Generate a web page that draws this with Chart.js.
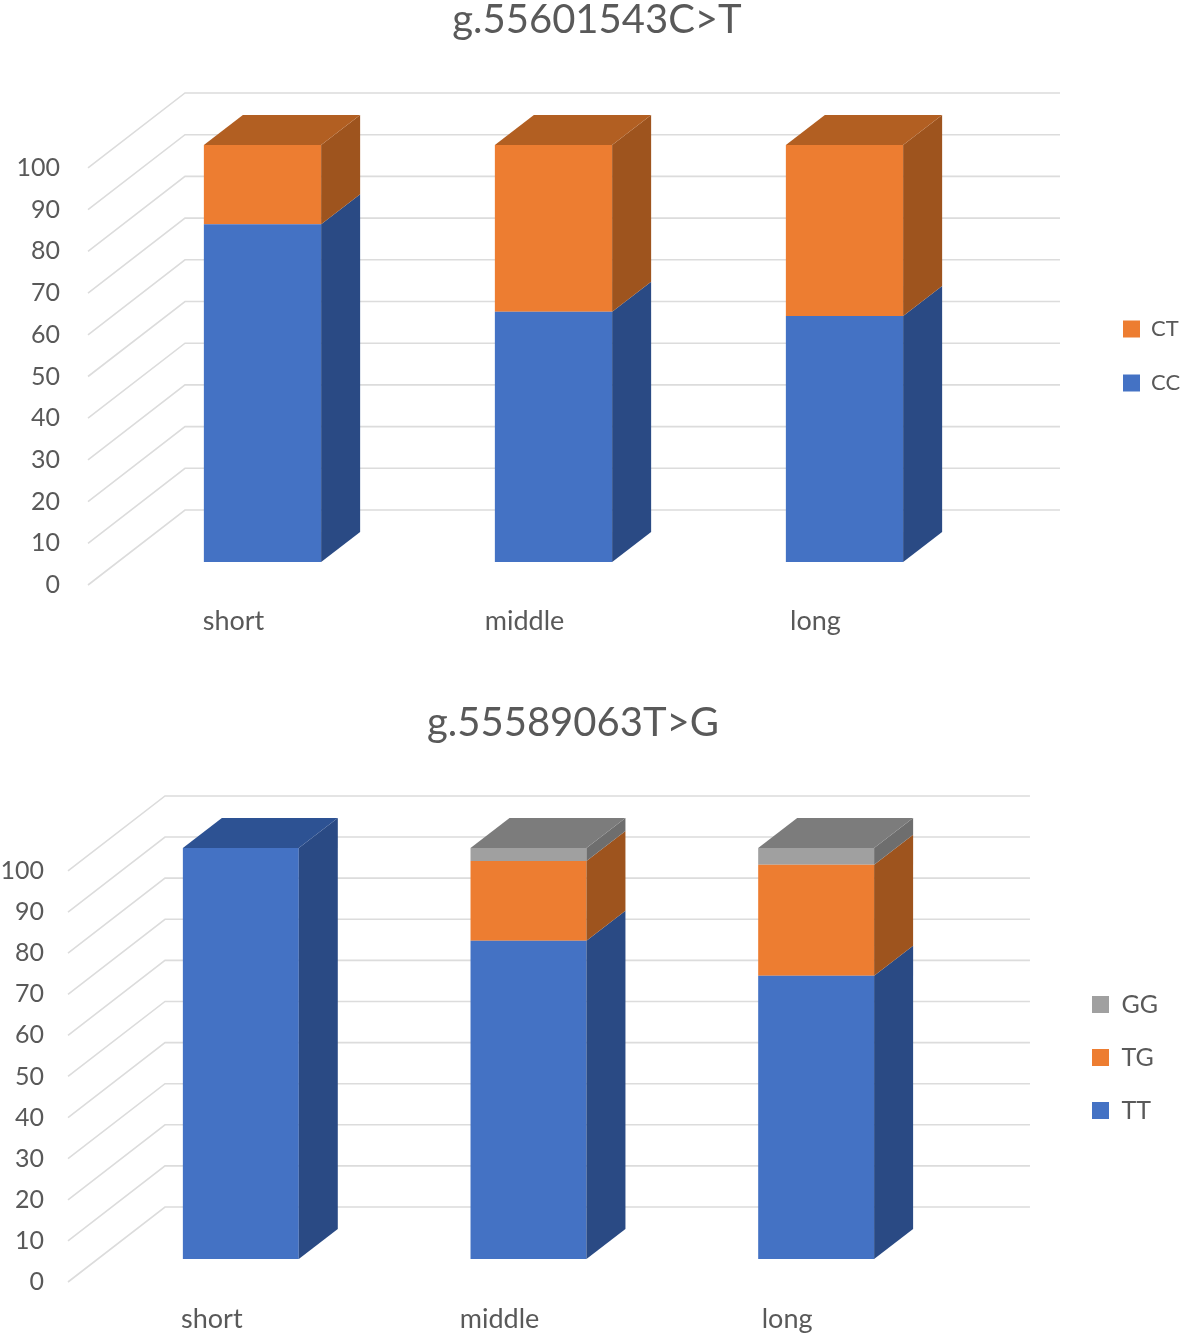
<!DOCTYPE html>
<html>
<head>
<meta charset="utf-8">
<title>Genotype charts</title>
<script src="https://cdn.jsdelivr.net/npm/chart.js@4"></script>
<style>
  html, body { margin: 0; background: #fff; overflow: hidden; }
  canvas { position: absolute; }
  #chartTop { top: 0; left: 0; }
  #chartBottom { top: 665px; left: -35px; }
</style>
</head>
<body>
<canvas id="chartTop" width="1181" height="660"></canvas>
<canvas id="chartBottom" width="1216" height="669"></canvas>
<script>
// Data
const categories = ['short', 'middle', 'long'];
const tickValues = [0, 10, 20, 30, 40, 50, 60, 70, 80, 90, 100];

const titleTop = 'g.55601543C>T';
const ccValues = [81, 60, 59];
const ctValues = [19, 40, 41];

const titleBottom = 'g.55589063T>G';
const ttValues = [100, 77.4, 68.9];
const tgValues = [0, 19.4, 27];
const ggValues = [0, 3.2, 4.1];

const TEXT = '#595959';
const GRID = '#dcdcdc';
const FONT = 'Lato, "Open Sans", sans-serif';

// front, side and top colours per genotype colour
const BLUE = { front: '#4472c4', side: '#2a4a84', top: '#2d5293' };
const ORANGE = { front: '#ed7d31', side: '#9e541e', top: '#b25f22' };
const GREY = { front: '#a0a0a0', side: '#6e6e6e', top: '#7c7c7c' };

// Fake 3D: walls behind the bars, side and top faces in front
const box3d = {
  id: 'box3d',
  beforeDatasetsDraw(chart) {
    const { ctx, chartArea } = chart;
    const y = chart.scales.y;
    ctx.save();
    ctx.strokeStyle = GRID;
    ctx.lineWidth = 1.6;
    tickValues.forEach(v => {
      const py = y.getPixelForValue(v);
      ctx.beginPath();
      ctx.moveTo(chartArea.left - 29, py + 2);
      ctx.lineTo(chartArea.left + 68, py - 73);
      ctx.lineTo(chartArea.right + 70, py - 73);
      ctx.stroke();
    });
    ctx.restore();
  },
  afterDatasetsDraw(chart) {
    const { ctx } = chart;
    const dx = 39, dy = 30;
    const face = (pts, color) => {
      ctx.fillStyle = color;
      ctx.beginPath();
      pts.forEach((p, i) => (i ? ctx.lineTo(p[0], p[1]) : ctx.moveTo(p[0], p[1])));
      ctx.closePath();
      ctx.fill();
    };
    categories.forEach((c, i) => {
      let last = null;
      chart.data.datasets.forEach((ds, d) => {
        if (!ds.data[i]) return;
        const bar = chart.getDatasetMeta(d).data[i];
        const r = bar.x + bar.width / 2;
        face([[r, bar.base], [r + dx, bar.base - dy], [r + dx, bar.y - dy], [r, bar.y]], ds.faces.side);
        last = { bar, faces: ds.faces };
      });
      if (last) {
        const l = last.bar.x - last.bar.width / 2;
        const r = last.bar.x + last.bar.width / 2;
        const t = last.bar.y;
        face([[l, t], [r, t], [r + dx, t - dy], [l + dx, t - dy]], last.faces.top);
      }
    });
  }
};

function series(label, data, faces) {
  return { label, data, faces, backgroundColor: faces.front, borderWidth: 0, barPercentage: 0.403, categoryPercentage: 1, yAxisID: 'yBars' };
}

function makeChart(id, title, datasets, o) {
  // nudge the legend to where the picture has it
  const legendShift = {
    id: 'legendShift',
    afterLayout(chart) {
      chart.legend.top += o.legendShift;
      chart.legend.bottom += o.legendShift;
      chart.legend.left += o.legendLeft;
      chart.legend.right += o.legendLeft;
    }
  };
  return new Chart(document.getElementById(id), {
    type: 'bar',
    data: { labels: categories, datasets },
    plugins: [box3d, legendShift],
    options: {
      responsive: false,
      animation: false,
      layout: { padding: o.padding },
      scales: {
        x: {
          stacked: true,
          grid: { display: false, drawTicks: false },
          border: { display: false },
          afterFit: s => { s.height = o.xHeight; },
          ticks: { color: TEXT, font: { family: FONT, size: 27 }, padding: o.xPad, labelOffset: -29, maxRotation: 0 }
        },
        y: {
          position: 'left',
          min: 0,
          max: o.yMax,
          // tick length instead of tick padding: padding would eat into the plot height
          grid: { display: false, drawTicks: true, tickLength: o.yGap },
          border: { display: false },
          afterFit: s => { s.width = o.yWidth; },
          ticks: { color: TEXT, font: { family: FONT, size: 25 }, stepSize: 10, includeBounds: false, autoSkip: false, padding: 0, labelOffset: 2 }
        },
        yBars: {
          position: 'right',
          stacked: true,
          min: o.barMin,
          max: o.barMax,
          grid: { display: false, drawTicks: false },
          border: { display: false },
          ticks: { display: false },
          afterFit: s => { s.width = o.rightWidth; }
        }
      },
      plugins: {
        tooltip: { enabled: false },
        title: {
          display: true,
          text: title,
          color: TEXT,
          font: { family: FONT, size: 40, weight: 'normal' },
          padding: { top: o.titleTop, bottom: o.titleBottom }
        },
        legend: {
          position: 'right',
          reverse: true,
          maxWidth: o.legendWidth,
          labels: { color: TEXT, font: { family: FONT, size: o.legendSize }, boxWidth: 17, boxHeight: 17, padding: o.legendPad }
        }
      }
    }
  });
}

makeChart('chartTop', titleTop, [
  series('CC', ccValues, BLUE),
  series('CT', ctValues, ORANGE)
], {
  padding: { left: 13 }, xHeight: 77, xPad: 22, yMax: 109.35, yWidth: 104, yGap: 57,
  barMin: -5.04, barMax: 104.31, rightWidth: 101, legendWidth: 90, legendSize: 22, legendPad: 32, legendShift: 26, legendLeft: 0,
  titleTop: -4, titleBottom: 83
});

makeChart('chartBottom', titleBottom, [
  series('TT', ttValues, BLUE),
  series('TG', tgValues, ORANGE),
  series('GG', ggValues, GREY)
], {
  padding: 0, xHeight: 54, xPad: 23, yMax: 108.5, yWidth: 132, yGap: 53,
  barMin: -5.11, barMax: 103.39, rightWidth: 117, legendWidth: 117, legendSize: 25, legendPad: 28, legendShift: 58, legendLeft: -13,
  titleTop: 34, titleBottom: 87
});
</script>
</body>
</html>
